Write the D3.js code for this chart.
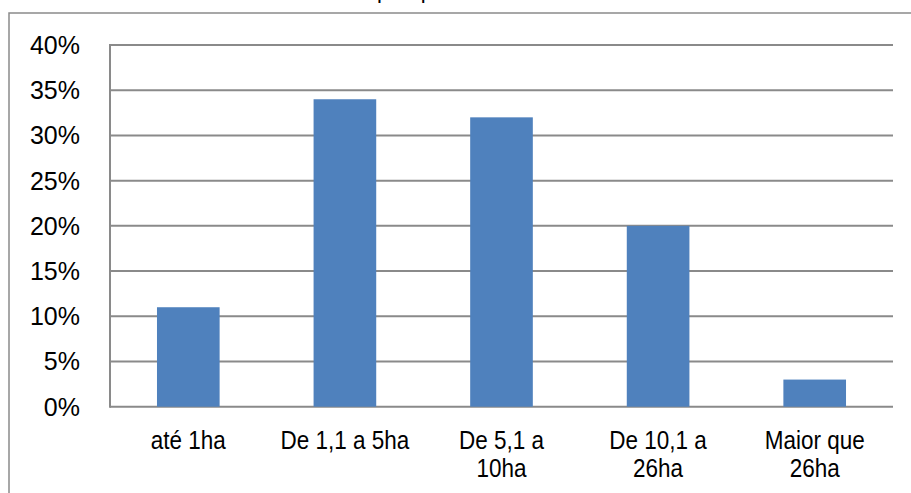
<!DOCTYPE html>
<html>
<head>
<meta charset="utf-8">
<script src="https://cdn.jsdelivr.net/npm/d3@7"></script>
<style>
  html, body { margin: 0; padding: 0; background: #fff; }
  svg { display: block; }
</style>
</head>
<body>
<svg id="chart" width="911" height="493"></svg>
<script>
// Share of properties by area class
const categories = [["até 1ha"], ["De 1,1 a 5ha"], ["De 5,1 a", "10ha"], ["De 10,1 a", "26ha"], ["Maior que", "26ha"]];
const values = [0.11, 0.34, 0.32, 0.20, 0.03];
const yTicks = [0, 0.05, 0.10, 0.15, 0.20, 0.25, 0.30, 0.35, 0.40];
const title = "Tamanho das propriedades";

const W = 911, H = 493;
const plot = { left: 110, right: 893, top: 45, bottom: 406.7 };
const grey = "#8a8a8a";
const barColor = "#4F81BD";
const font = "'Liberation Sans', Arial, sans-serif";

const svg = d3.select("#chart");

// chart frame (runs past the right and bottom edges)
svg.append("rect")
  .attr("x", 9).attr("y", 13)
  .attr("width", 1000).attr("height", 1000)
  .attr("fill", "none").attr("stroke", grey).attr("stroke-width", 1.5);

// title, sitting above the frame
svg.append("text")
  .attr("x", 372).attr("y", -2)
  .attr("text-anchor", "middle")
  .attr("font-family", font).attr("font-size", 22)
  .attr("letter-spacing", 4)
  .attr("fill", "#000")
  .text(title);

const x = d3.scaleBand()
  .domain(categories.map(d => d.join(" ")))
  .range([plot.left, plot.right])
  .paddingInner(0).paddingOuter(0);

const y = d3.scaleLinear().domain([0, 0.40]).range([plot.bottom, plot.top]);

// gridlines
svg.append("g")
  .selectAll("line")
  .data(yTicks)
  .join("line")
  .attr("x1", plot.left).attr("x2", plot.right)
  .attr("y1", d => y(d)).attr("y2", d => y(d))
  .attr("stroke", grey).attr("stroke-width", 2);

// vertical axis line
svg.append("line")
  .attr("x1", plot.left).attr("x2", plot.left)
  .attr("y1", y(0.40) - 1).attr("y2", y(0) + 1)
  .attr("stroke", grey).attr("stroke-width", 2);

// y tick labels
const pct = d3.format(".0%");
svg.append("g")
  .selectAll("text")
  .data(yTicks)
  .join("text")
  .attr("x", 80)
  .attr("y", d => y(d))
  .attr("dy", "0.36em")
  .attr("text-anchor", "end")
  .attr("font-family", font).attr("font-size", 25)
  .attr("fill", "#000")
  .text(d => pct(d));

// bars: width 40% of the category slot
const barW = x.bandwidth() * 0.4;
svg.append("g")
  .selectAll("rect")
  .data(values)
  .join("rect")
  .attr("x", (d, i) => x(categories[i].join(" ")) + (x.bandwidth() - barW) / 2)
  .attr("y", d => y(d))
  .attr("width", barW)
  .attr("height", d => y(0) - y(d))
  .attr("fill", barColor);

// category labels (one or two lines)
const lab = svg.append("g")
  .selectAll("g")
  .data(categories)
  .join("g")
  .attr("transform", d => `translate(${x(d.join(" ")) + x.bandwidth() / 2},449) scale(1,1.15)`);

lab.selectAll("text")
  .data(d => d)
  .join("text")
  .attr("x", 0)
  .attr("y", (d, i) => i * 28 / 1.15)
  .attr("text-anchor", "middle")
  .attr("font-family", font).attr("font-size", 22.5)
  .attr("fill", "#000")
  .text(d => d);
</script>
</body>
</html>
